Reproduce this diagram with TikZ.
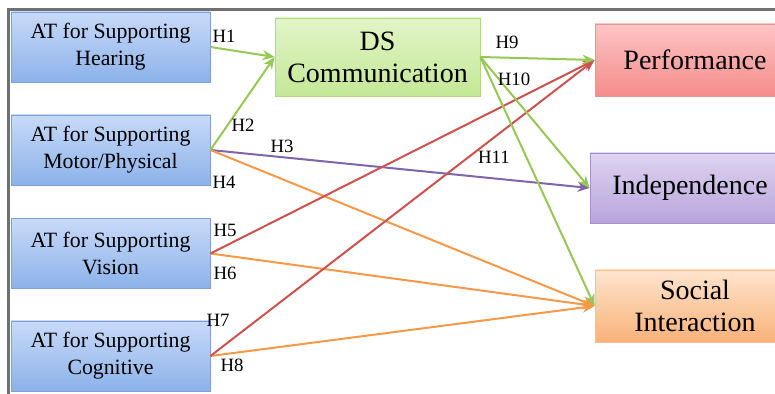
\documentclass[tikz,border=0pt]{standalone}
\usepackage{fontspec}
\setmainfont{Liberation Serif}
\usetikzlibrary{arrows.meta}

\definecolor{framegray}{RGB}{112,112,112}
\definecolor{bluetop}{RGB}{200,218,248}
\definecolor{bluebot}{RGB}{140,178,234}
\definecolor{blueline}{RGB}{125,160,218}
\definecolor{greentop}{RGB}{226,244,200}
\definecolor{greenbot}{RGB}{196,232,150}
\definecolor{greenline}{RGB}{178,216,128}
\definecolor{redtop}{RGB}{255,196,196}
\definecolor{redbot}{RGB}{244,140,140}
\definecolor{redline}{RGB}{228,150,150}
\definecolor{purpletop}{RGB}{222,212,240}
\definecolor{purplebot}{RGB}{184,164,220}
\definecolor{purpleline}{RGB}{170,142,208}
\definecolor{orangetop}{RGB}{253,228,206}
\definecolor{orangebot}{RGB}{249,178,120}
\definecolor{orangeline}{RGB}{246,190,146}
\definecolor{hgreen}{RGB}{150,200,84}
\definecolor{hpurple}{RGB}{128,100,172}
\definecolor{horange}{RGB}{247,152,72}
\definecolor{hred}{RGB}{205,82,78}

\begin{document}
\begin{tikzpicture}[x=0.5pt,y=-0.5pt,
  atbox/.style={draw=blueline, top color=bluetop, bottom color=bluebot,
    minimum width=99.5pt, minimum height=35pt, inner sep=0pt, align=center,
    font=\fontsize{10.9}{13.5}\selectfont},
  outbox/.style={minimum height=36pt, inner sep=0pt, align=center,
    font=\fontsize{14}{16}\selectfont},
  hyp/.style={line width=1pt, -{Stealth[length=6pt,width=5pt]}},
  hlab/.style={inner sep=0pt, font=\fontsize{9.4}{10}\selectfont}]
  \useasboundingbox (0,0) rectangle (775,394);
  \draw[framegray, line width=1.2pt] (8.5,394) -- (8.5,9.5) -- (775,9.5);

  \foreach \nm/\yy/\what in {
    hear/47/Hearing,
    motor/150/{Motor/Physical},
    vision/253.5/Vision,
    cogn/356/Cognitive}{
    \node[atbox] (\nm) at (110.5,\yy) {AT for Supporting\\\what};
  }

  \node[outbox, draw=greenline, top color=greentop, bottom color=greenbot,
    minimum width=102.5pt, minimum height=39pt] (ds) at (377.5,57) {DS\\Communication};
  \node[outbox, draw=redline, top color=redtop, bottom color=redbot,
    minimum width=100pt] (perf) at (695,60) {Performance};
  \node[outbox, draw=purpleline, top color=purpletop, bottom color=purplebot,
    minimum width=100pt, minimum height=35pt] (indep) at (690,188) {Independence};
  \node[outbox, draw=orangeline, top color=orangetop, bottom color=orangebot,
    minimum width=100pt] (social) at (695,306) {Social\\Interaction};

  \foreach \from/\to/\col in {
    motor/indep/hpurple,
    motor/social/horange,
    vision/social/horange,
    cogn/social/horange,
    vision/perf/hred,
    cogn/perf/hred,
    hear/ds/hgreen,
    motor/ds/hgreen,
    ds/perf/hgreen,
    ds/indep/hgreen,
    ds/social/hgreen}{
    \draw[hyp, draw=\col] (\from.east) -- (\to.west);
  }

  \foreach \i/\x/\y in {
    1/224/36,
    2/243/125,
    3/282/146,
    4/224/182,
    5/225/230,
    6/225/273,
    7/218/320,
    8/232/365,
    9/507/42,
    10/514/79,
    11/494/157}{
    \node[hlab] (h\i) at (\x,\y) {H\i};
  }
\end{tikzpicture}
\end{document}
